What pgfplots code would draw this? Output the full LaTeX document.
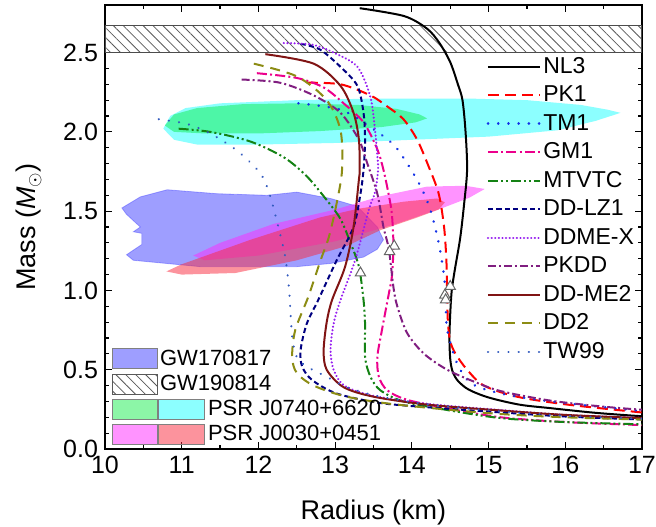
\documentclass[border=0pt]{standalone}
\usepackage{fontspec}
\setmainfont{Liberation Sans}
\usepackage{pgfplots}
\pgfplotsset{compat=1.18}
\usetikzlibrary{patterns.meta}
\definecolor{cTM}{RGB}{20,50,230}
\definecolor{cMT}{RGB}{20,130,20}
\definecolor{cLZ}{RGB}{0,0,128}
\definecolor{cMX}{RGB}{150,30,240}
\definecolor{cPD}{RGB}{128,30,128}
\definecolor{cME}{RGB}{128,20,20}
\definecolor{cDD}{RGB}{140,140,20}
\definecolor{cTW}{RGB}{50,90,190}
\definecolor{rBlue}{RGB}{40,40,255}
\definecolor{rGreen}{RGB}{0,235,60}
\definecolor{rCyan}{RGB}{0,255,255}
\definecolor{rMag}{RGB}{255,40,255}
\definecolor{rRed}{RGB}{250,40,60}
\begin{document}
\begin{tikzpicture}
\useasboundingbox (-52.5pt,-38.5pt) rectangle (275.5pt,224.5pt);
\begin{axis}[
  scale only axis, width=268.5pt, height=222pt,
  xmin=10, xmax=17, ymin=0, ymax=2.8,
  xtick={10,11,...,17}, minor x tick num=1,
  ytick={0,0.5,...,2.5}, minor y tick num=4,
  tick align=inside, major tick length=3.5pt, minor tick length=2pt,
  axis line style={line width=0.8pt}, every tick/.style={black, line width=0.6pt},
  /pgf/number format/assume math mode=true,
  yticklabel style={/pgf/number format/.cd, fixed, fixed zerofill, precision=1},
  tick label style={font=\fontsize{12.5}{14}\selectfont},
  xlabel={Radius (km)}, ylabel={Mass (\textit{M}$_{\odot}$)},
  label style={font=\fontsize{13.5}{16}\selectfont},
  xlabel style={yshift=-6pt},
  ylabel style={yshift=4pt},
  legend style={at={(0.71,0.888)}, anchor=north west, draw=none, fill=none,
    font=\fontsize{11.5}{13}\selectfont, row sep=2.8pt, inner sep=0pt,
    nodes={inner sep=1pt}},
  legend cell align=left,
  legend image code/.code={\draw[#1] (0pt,0pt) -- (26pt,0pt);},
  every axis plot/.append style={line width=1pt},
]
% GW190814 band
\addplot[forget plot, draw=gray!60!black, line width=0.6pt, pattern={Lines[angle=-45,distance=3.5pt,line width=0.4pt]}, pattern color=gray!70!black]
  coordinates {(10,2.50) (17,2.50) (17,2.67) (10,2.67)} -- cycle;
% PSR J0740+6620 cyan
\addplot[forget plot, draw=none, fill=rCyan, fill opacity=0.45] coordinates {
 (10.76,2.02) (10.85,2.10) (11.05,2.15) (11.5,2.18) (12.5,2.20) (13.5,2.21) (14.75,2.21) (15.5,2.20) (16.2,2.17) (16.55,2.14) (16.72,2.12)
 (16.4,2.07) (15.9,2.01) (15.0,1.97) (14.0,1.95) (13.0,1.93) (12.0,1.92) (11.2,1.92) (10.9,1.95)} -- cycle;
% green
\addplot[forget plot, draw=none, fill=rGreen, fill opacity=0.45] coordinates {
 (10.78,2.04) (10.9,2.11) (11.2,2.15) (11.8,2.175) (12.5,2.18) (13.3,2.17) (13.8,2.145) (14.1,2.11) (14.2,2.085)
 (14.05,2.06) (13.6,2.03) (12.8,2.005) (12.0,1.99) (11.3,1.99) (10.9,2.0)} -- cycle;
% GW170817 blue
\addplot[forget plot, draw=rBlue, draw opacity=0.35, line width=0.4pt, fill=rBlue, fill opacity=0.45] coordinates {
 (10.22,1.52) (10.46,1.59) (10.81,1.635) (11.46,1.61) (12.11,1.60) (12.50,1.62) (12.94,1.58) (13.29,1.53) (13.55,1.40) (13.63,1.32)
 (13.55,1.26) (13.37,1.21) (12.94,1.17) (12.50,1.15) (11.24,1.15) (10.37,1.19) (10.28,1.225) (10.48,1.29) (10.48,1.36) (10.37,1.37) (10.46,1.40) (10.28,1.48)} -- cycle;
% PSR J0030+0451 magenta
\addplot[forget plot, draw=none, fill=rMag, fill opacity=0.5] coordinates {
 (11.15,1.22) (11.5,1.30) (12.2,1.42) (13.0,1.51) (13.6,1.595) (14.2,1.655) (14.7,1.66) (14.95,1.64)
 (14.75,1.585) (14.4,1.52) (13.8,1.42) (13.0,1.31) (12.0,1.22) (11.3,1.19)} -- cycle;
% red
\addplot[forget plot, draw=none, fill=rRed, fill opacity=0.5] coordinates {
 (10.80,1.12) (11.0,1.165) (11.9,1.32) (12.8,1.46) (13.3,1.515) (13.9,1.56) (14.33,1.58) (14.43,1.555)
 (14.35,1.51) (14.07,1.46) (13.59,1.38) (13.15,1.28) (12.5,1.19) (11.7,1.11) (11.0,1.10)} -- cycle;
% curves
\addplot[black, smooth] coordinates {
 (13.32,2.78) (13.9,2.73) (14.2,2.65) (14.36,2.56) (14.5,2.44) (14.6,2.30) (14.66,2.2) (14.70,2.0) (14.72,1.76) (14.68,1.54) (14.63,1.33) (14.56,1.13) (14.52,1.0) (14.50,0.85) (14.49,0.70) (14.50,0.57) (14.53,0.49) (14.6,0.43) (14.74,0.375) (15.0,0.325) (15.4,0.28) (15.8,0.258) (16.4,0.228) (17.05,0.205) (17.3,0.2)};
\addlegendentry{NL3}
\addplot[red, smooth, dash pattern=on 5.5pt off 3pt] coordinates {
 (12.63,2.31) (13.07,2.30) (13.46,2.23) (13.68,2.16) (13.89,2.08) (14.07,1.95) (14.22,1.78) (14.35,1.61) (14.42,1.40) (14.45,1.19) (14.46,0.98) (14.47,0.80) (14.50,0.68) (14.57,0.60) (14.72,0.50) (14.94,0.40) (15.37,0.33) (16.03,0.28) (17.05,0.228) (17.3,0.22)};
\addlegendentry{PK1}
\addplot[cTM, smooth, line cap=round, dash pattern=on 0.1pt off 5pt, line width=1.3pt] coordinates {
 (12.52,2.18) (13.07,2.14) (13.46,2.03) (13.76,1.92) (13.94,1.80) (14.11,1.66) (14.24,1.51) (14.35,1.30) (14.42,1.09) (14.44,0.94) (14.45,0.80) (14.48,0.71) (14.59,0.54) (14.77,0.415) (15.16,0.35) (15.81,0.30) (17.05,0.237) (17.3,0.23)};
\addlegendentry{TM1}
\addplot[magenta, smooth, dash pattern=on 5pt off 1.6pt on 1pt off 1.6pt] coordinates {
 (11.98,2.37) (12.50,2.34) (12.85,2.28) (13.11,2.18) (13.37,2.06) (13.55,1.89) (13.63,1.76) (13.70,1.60) (13.74,1.48) (13.76,1.28) (13.74,1.09) (13.70,0.98) (13.61,0.75) (13.55,0.58) (13.57,0.456) (13.68,0.37) (13.94,0.31) (14.46,0.257) (15.16,0.20) (16.0,0.17) (17.05,0.15) (17.3,0.148)};
\addlegendentry{GM1}
\addplot[cMT, smooth, dash pattern=on 5pt off 1.5pt on 1pt off 1.5pt on 1pt off 1.5pt] coordinates {
 (10.96,2.02) (11.37,2.00) (11.89,1.94) (12.33,1.84) (12.63,1.72) (12.89,1.57) (13.07,1.45) (13.20,1.30) (13.31,1.15) (13.37,0.94) (13.39,0.79) (13.39,0.58) (13.46,0.456) (13.59,0.37) (13.89,0.30) (14.46,0.246) (15.16,0.195) (16.0,0.17) (17.05,0.155) (17.3,0.15)};
\addlegendentry{MTVTC}
\addplot[cLZ, smooth, dash pattern=on 2.6pt off 1.6pt] coordinates {
 (12.55,2.555) (12.80,2.52) (13.07,2.41) (13.29,2.29) (13.37,2.12) (13.39,1.95) (13.37,1.76) (13.33,1.61) (13.24,1.40) (13.02,1.19) (12.78,0.94) (12.63,0.79) (12.55,0.625) (12.57,0.52) (12.70,0.435) (13.02,0.35) (13.59,0.29) (14.3,0.26) (15.03,0.235) (16.0,0.205) (17.05,0.185) (17.3,0.18)};
\addlegendentry{DD-LZ1}
\addplot[cMX, smooth, line cap=round, dash pattern=on 0.1pt off 1.7pt, line width=1.1pt] coordinates {
 (12.33,2.56) (12.7,2.55) (12.98,2.50) (13.29,2.41) (13.46,2.22) (13.52,2.01) (13.55,1.85) (13.56,1.76) (13.52,1.62) (13.44,1.51) (13.26,1.19) (13.07,0.94) (12.98,0.79) (12.94,0.625) (12.98,0.50) (13.12,0.40) (13.5,0.335) (14.24,0.283) (15.1,0.248) (16.0,0.215) (17.05,0.195) (17.3,0.19)};
\addlegendentry{DDME-X}
\addplot[cPD, smooth, dash pattern=on 4pt off 1.5pt on 1pt off 1.5pt] coordinates {
 (11.78,2.33) (12.28,2.31) (12.72,2.23) (13.07,2.12) (13.31,1.95) (13.42,1.80) (13.55,1.61) (13.63,1.40) (13.70,1.26) (13.76,1.02) (13.81,0.90) (13.94,0.73) (14.16,0.60) (14.46,0.50) (14.81,0.425) (15.16,0.365) (15.81,0.305) (16.5,0.267) (17.05,0.246) (17.3,0.24)};
\addlegendentry{PKDD}
\addplot[cME, smooth] coordinates {
 (12.09,2.49) (12.72,2.43) (13.07,2.29) (13.24,2.12) (13.31,1.95) (13.32,1.76) (13.31,1.70) (13.24,1.40) (13.13,1.15) (12.96,0.94) (12.89,0.80) (12.85,0.62) (12.89,0.50) (13.11,0.39) (13.5,0.33) (14.2,0.28) (15.1,0.245) (16.0,0.215) (17.05,0.194) (17.3,0.19)};
\addlegendentry{DD-ME2}
\addplot[cDD, smooth, dash pattern=on 5pt off 3.5pt] coordinates {
 (11.94,2.43) (12.50,2.35) (12.89,2.20) (13.07,2.01) (13.09,1.76) (13.02,1.55) (12.92,1.34) (12.81,1.19) (12.65,0.96) (12.48,0.75) (12.44,0.58) (12.50,0.48) (12.72,0.40) (13.15,0.33) (13.81,0.28) (15.03,0.225) (16.0,0.2) (17.05,0.185) (17.3,0.18)};
\addlegendentry{DD2}
\addplot[cTW, smooth, line cap=round, dash pattern=on 0.1pt off 5pt, line width=1.1pt] coordinates {
 (10.70,2.08) (11.07,2.05) (11.37,1.99) (11.67,1.90) (11.89,1.81) (12.05,1.72) (12.15,1.60) (12.26,1.40) (12.35,1.21) (12.40,1.00) (12.44,0.71) (12.50,0.58) (12.63,0.52) (12.89,0.456) (13.15,0.39) (13.59,0.33) (14.24,0.28) (15.1,0.24) (16.0,0.21) (17.05,0.19) (17.3,0.185)};
\addlegendentry{TW99}
% triangles
\addplot[forget plot, only marks, mark=triangle*, mark size=3pt, mark options={draw=gray!80!black, fill=white, line width=0.5pt}] coordinates {
 (13.33,1.11) (13.77,1.28) (13.71,1.245) (14.50,1.025) (14.43,0.97) (14.44,0.94)};
\end{axis}
\begin{axis}[
  scale only axis, width=268.5pt, height=222pt, hide axis,
  xmin=0, xmax=1, ymin=0, ymax=1,
  legend style={at={(0.012,0.006)}, anchor=south west, draw=none, fill=none,
    font=\fontsize{11}{12}\selectfont, row sep=1.0pt, inner sep=0pt,
    nodes={inner sep=1.2pt}},
  legend cell align=left,
]
\addlegendimage{legend image code/.code={\draw[draw=gray, fill=rBlue, fill opacity=0.45, line width=0.4pt] (0pt,-5pt) rectangle (22.5pt,5pt);}}
\addlegendentry{GW170817}
\addlegendimage{legend image code/.code={\draw[draw=gray!70!black, line width=0.4pt, pattern={Lines[angle=-45,distance=3.5pt,line width=0.4pt]}, pattern color=gray!70!black] (0pt,-5pt) rectangle (22.5pt,5pt);}}
\addlegendentry{GW190814}
\addlegendimage{legend image code/.code={\draw[draw=gray, fill=rGreen, fill opacity=0.45, line width=0.4pt] (0pt,-5pt) rectangle (22.5pt,5pt);
  \draw[overlay, draw=gray, fill=rCyan, fill opacity=0.45, line width=0.4pt] (23pt,-5pt) rectangle (46pt,5pt);}}
\addlegendentry{\hspace*{24pt}PSR J0740+6620}
\addlegendimage{legend image code/.code={\draw[draw=gray, fill=rMag, fill opacity=0.5, line width=0.4pt] (0pt,-5pt) rectangle (22.5pt,5pt);
  \draw[overlay, draw=gray, fill=rRed, fill opacity=0.5, line width=0.4pt] (23pt,-5pt) rectangle (46pt,5pt);}}
\addlegendentry{\hspace*{24pt}PSR J0030+0451}
\end{axis}
\end{tikzpicture}
\end{document}
